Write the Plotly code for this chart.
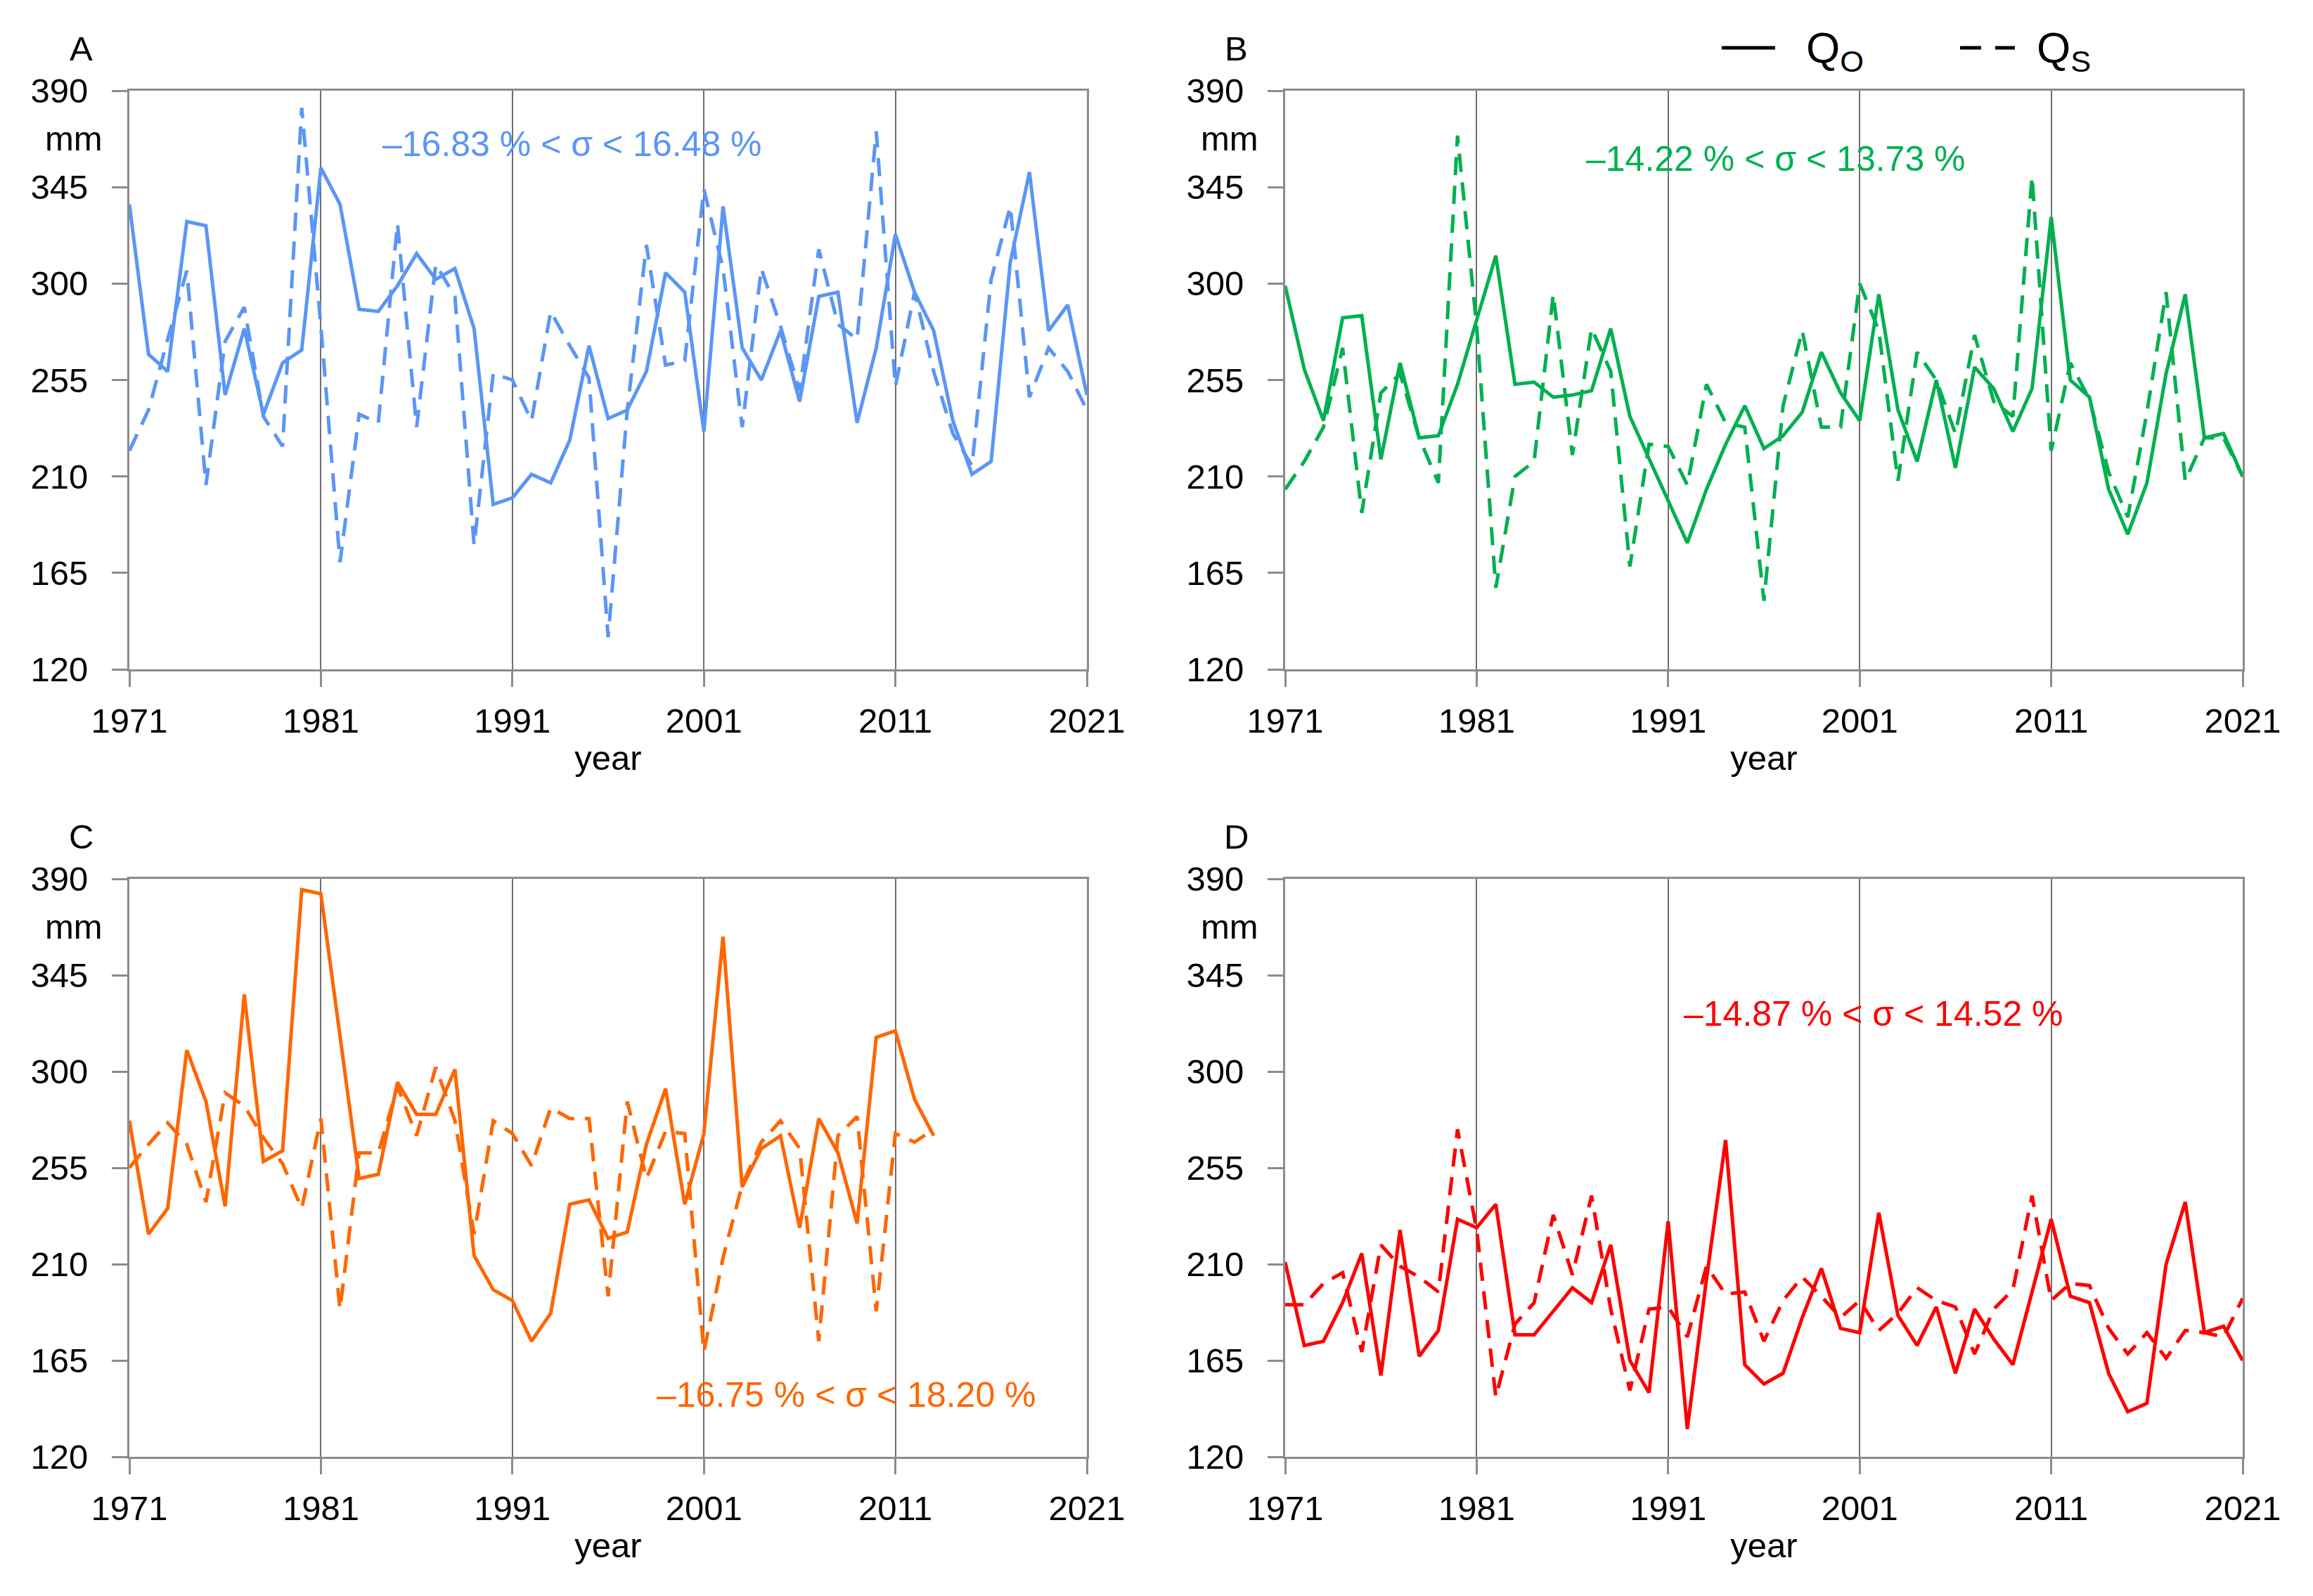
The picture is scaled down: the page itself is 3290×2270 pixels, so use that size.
import plotly.graph_objects as go

W, H = 3290, 2270

years = list(range(1971, 2022))
years_c = list(range(1971, 2014))
tick_years = [1971, 1981, 1991, 2001, 2011, 2021]
y_ticks = [120, 165, 210, 255, 300, 345, 390]

a_obs = [337, 267, 259, 329, 327, 248, 279, 239, 263, 269, 354, 337, 288, 287, 299, 314, 302,
         307, 279, 197, 200, 211, 207, 227, 271, 237, 241, 259, 305, 296, 231, 336, 270, 255,
         278, 245, 294, 296, 235, 270, 323, 296, 278, 236, 211, 217, 310, 352, 278, 290, 248]
a_sim = [222, 241, 274, 306, 206, 273, 289, 238, 224, 382, 280, 170, 239, 235, 328, 233, 309,
         294, 178, 258, 255, 236, 287, 271, 256, 135, 241, 318, 262, 264, 344, 307, 233, 307,
         280, 250, 316, 281, 274, 371, 252, 296, 259, 230, 215, 302, 336, 247, 270, 259, 241]

b_obs = [299, 260, 236, 284, 285, 218, 263, 228, 229, 253, 283, 313, 253, 254, 247, 248, 250,
         279, 238, 218, 198, 179, 204, 225, 243, 223, 229, 240, 268, 249, 236, 295, 241, 217,
         255, 214, 261, 251, 231, 251, 331, 255, 247, 204, 183, 207, 258, 295, 228, 230, 210]
b_sim = [204, 217, 233, 270, 193, 249, 258, 228, 207, 369, 280, 158, 210, 217, 295, 220, 279,
         259, 168, 225, 224, 206, 253, 235, 233, 152, 243, 278, 233, 233, 300, 278, 208, 268,
         255, 230, 276, 245, 238, 350, 222, 263, 246, 212, 191, 240, 296, 208, 228, 228, 210]

c_obs = [277, 224, 236, 310, 286, 237, 336, 258, 263, 385, 383, 315, 250, 252, 295, 280, 280,
         301, 214, 198, 193, 174, 187, 238, 240, 222, 225, 266, 292, 238, 271, 363, 246, 264,
         270, 227, 278, 262, 229, 316, 319, 287, 270]
c_sim = [255, 266, 276, 266, 239, 290, 284, 269, 257, 236, 278, 189, 262, 262, 293, 270, 302,
         277, 224, 277, 271, 256, 283, 278, 278, 195, 286, 250, 272, 271, 169, 213, 247, 267,
         277, 264, 174, 270, 279, 188, 271, 267, 273]

d_obs = [211, 172, 174, 192, 215, 158, 226, 167, 179, 231, 227, 238, 177, 177, 188, 199, 192,
         219, 165, 150, 230, 133, 203, 268, 163, 154, 159, 185, 208, 180, 178, 234, 186, 172,
         190, 159, 189, 175, 163, 197, 231, 195, 192, 159, 141, 145, 210, 239, 178, 181, 165]
d_sim = [191, 191, 201, 206, 169, 219, 209, 204, 197, 273, 226, 148, 182, 192, 233, 205, 242,
         189, 151, 189, 190, 176, 209, 196, 197, 174, 193, 204, 195, 185, 193, 179, 187, 199,
         193, 190, 168, 189, 198, 242, 193, 201, 200, 180, 168, 178, 166, 179, 178, 176, 194]

panel_labels = ["A", "B", "C", "D"]
sigma_texts = ["–16.83 % < σ < 16.48 %", "–14.22 % < σ < 13.73 %",
               "–16.75 % < σ < 18.20 %", "–14.87 % < σ < 14.52 %"]
colors = ["#5A96F5", "#00B050", "#FF6600", "#FF0000"]
legend_names = ["Q<sub>O</sub>", "Q<sub>S</sub>"]

panels = [
    (years, a_obs, a_sim),
    (years, b_obs, b_sim),
    (years_c, c_obs, c_sim),
    (years, d_obs, d_sim),
]

FONT = "Arial, Liberation Sans, sans-serif"
LW = 5
DASH = "26px,15px"
TICK_SIZE = 49

# layout geometry (paper fractions)
xdom = [[184 / W, 1546 / W], [1828 / W, 3190 / W]]
ydom = [[1 - 952 / H, 1 - 129 / H], [1 - 2072 / H, 1 - 1250 / H]]

fig = go.Figure()

for i, (xs, obs, sim) in enumerate(panels):
    ax = "" if i == 0 else str(i + 1)
    fig.add_trace(go.Scatter(x=xs, y=obs, mode="lines", xaxis="x" + ax, yaxis="y" + ax,
                             line=dict(color=colors[i], width=LW), showlegend=False,
                             hoverinfo="skip"))
    fig.add_trace(go.Scatter(x=xs, y=sim, mode="lines", xaxis="x" + ax, yaxis="y" + ax,
                             line=dict(color=colors[i], width=LW, dash=DASH), showlegend=False,
                             hoverinfo="skip"))

layout = dict(
    width=W, height=H,
    margin=dict(l=0, r=0, t=0, b=0, pad=0, autoexpand=False),
    paper_bgcolor="white", plot_bgcolor="white",
    font=dict(family=FONT, size=TICK_SIZE, color="black"),
    showlegend=False,
)

annotations = []
for i in range(4):
    r, c = divmod(i, 2)
    ax = "" if i == 0 else str(i + 1)
    layout["xaxis" + ax] = dict(
        domain=xdom[c], anchor="y" + ax, range=[1971, 2021],
        tickmode="array", tickvals=tick_years, ticktext=[str(t) for t in tick_years],
        showgrid=True, gridcolor="#6e6e6e", gridwidth=2,
        showline=True, linecolor="#8c8c8c", linewidth=3, mirror=True,
        ticks="outside", ticklen=22, tickcolor="#8c8c8c", tickwidth=3,
        tickfont=dict(size=TICK_SIZE, family=FONT, color="black"),
        ticklabelstandoff=6,
        zeroline=False, fixedrange=True, automargin=False,
        title=dict(text="year", font=dict(size=49, family=FONT, color="black"), standoff=10),
    )
    layout["yaxis" + ax] = dict(
        domain=ydom[r], anchor="x" + ax, range=[120, 390],
        tickmode="array", tickvals=y_ticks, ticktext=[str(t) for t in y_ticks],
        showgrid=False, showline=True, linecolor="#8c8c8c", linewidth=3, mirror=True,
        ticks="outside", ticklen=22, tickcolor="#8c8c8c", tickwidth=3,
        tickfont=dict(size=TICK_SIZE, family=FONT, color="black"),
        ticklabelstandoff=24,
        zeroline=False, fixedrange=True, automargin=False,
    )
    x0 = xdom[c][0]
    ytop = ydom[r][1]
    annotations.append(dict(text=panel_labels[i], xref="paper", yref="paper",
                            x=x0 - 69 / W, y=ytop + 60 / H, xanchor="center", yanchor="middle",
                            showarrow=False, font=dict(size=TICK_SIZE, family=FONT, color="black")))
    annotations.append(dict(text="mm", xref="paper", yref="paper",
                            x=x0 - 36 / W, y=ytop - 68 / H, xanchor="right", yanchor="middle",
                            showarrow=False, font=dict(size=TICK_SIZE, family=FONT, color="black")))

sigma_pos = [(814, 205), (2526, 226), (1204, 1984), (2665, 1442)]
for i, (px, py) in enumerate(sigma_pos):
    annotations.append(dict(text=sigma_texts[i], xref="paper", yref="paper",
                            x=px / W, y=1 - py / H, xanchor="center", yanchor="middle",
                            showarrow=False, font=dict(size=50, family=FONT, color=colors[i])))

# legend (top right): keys drawn as paper-space lines, labels as text
legend_keys = [(2449, 2525, "solid"), (2788, 2866, "30px,20px")]
legend_text_x = [2567, 2895]
shapes = []
for (k0, k1, dash), tx, name in zip(legend_keys, legend_text_x, legend_names):
    shapes.append(dict(type="line", xref="paper", yref="paper", x0=k0 / W, x1=k1 / W,
                       y0=1 - 68 / H, y1=1 - 68 / H, line=dict(color="black", width=5, dash=dash)))
    annotations.append(dict(text=name, xref="paper", yref="paper", x=tx / W, y=1 - 72 / H,
                            xanchor="left", yanchor="middle", showarrow=False,
                            font=dict(size=62, family=FONT, color="black")))

layout["annotations"] = annotations
layout["shapes"] = shapes
fig.update_layout(**layout)

fig.write_html("out.html", config={"displayModeBar": False},
               post_script="document.body.style.margin='0px';document.body.style.overflow='hidden';")
